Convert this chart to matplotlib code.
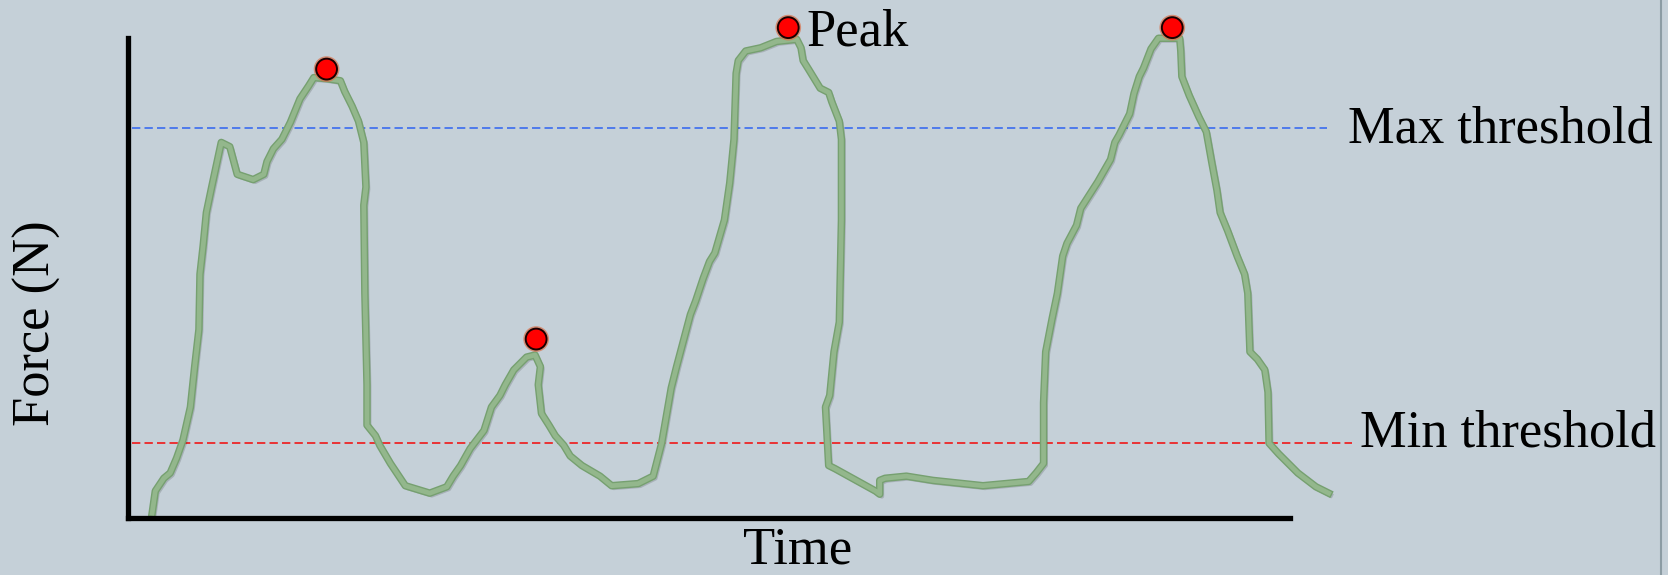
import numpy as np
import matplotlib
matplotlib.use("Agg")
import matplotlib.pyplot as plt
import matplotlib.patheffects as pe

# force trace (arbitrary units)
time = [23, 26, 34, 40, 46, 52, 59, 63, 67, 68, 71, 74, 79, 88, 96, 103, 118, 128,
        131, 137, 145, 153, 162, 170, 175, 187, 200, 204, 211, 217, 222, 224, 222,
        223, 225, 225, 233, 237, 247, 261, 284, 300, 306, 313, 322, 335, 342, 350,
        355, 363, 375, 383, 388, 386, 389, 396, 402, 410, 416, 427, 444,
        455, 480, 494, 502, 511, 516, 529, 534, 541, 547, 552, 561, 566, 570, 572,
        574, 581, 595, 610, 629, 633, 635, 640, 651, 659, 662, 669, 671, 671, 669,
        664, 660, 656, 659, 665, 703, 707, 707, 712, 732, 757, 804, 847, 854, 861,
        861, 863, 869, 874, 879, 883, 892, 896, 912, 924, 928, 932, 942, 946, 951,
        955, 962, 969, 989, 990, 991, 998, 1007, 1014, 1019, 1024, 1027, 1034,
        1043, 1050, 1053, 1055, 1062, 1069, 1072, 1073, 1082, 1100, 1117, 1129]
force = [4, 25, 37, 42, 56, 73, 104, 142, 177, 229, 256, 287, 311, 353, 349, 323, 318, 323,
         335, 347, 356, 372, 394, 406, 414, 413, 411, 401, 387, 373, 353, 311, 294,
         211, 125, 87, 77, 68, 51, 30, 23, 29, 39, 49, 65, 82, 104, 115,
         125, 139, 151, 153, 142, 125, 98, 87, 77, 68, 58, 49, 39,
         30, 32, 39, 70, 122, 142, 191, 204, 225, 241, 249, 280, 315, 356, 418,
         430, 439, 442, 448, 450, 442, 430, 422, 404, 400, 391, 373, 356, 280, 184,
         156, 115, 104, 49, 46, 25, 22, 35, 37, 39, 35, 30, 34, 42, 51,
         108, 156, 187, 211, 246, 258, 275, 291, 316, 337, 353, 360, 380, 399, 415,
         423, 441, 451, 451, 439, 415, 397, 377, 363, 335, 308, 287, 270,
         246, 229, 211, 156, 149, 139, 118, 70, 60, 42, 29, 23]

peak_time = [187, 384, 621, 982]
peak_force = [422, 168, 461, 461]

max_threshold = 367
min_threshold = 70

bg = "#c5d0d8"
plt.rcParams["font.family"] = ["Liberation Serif", "DejaVu Serif"]

fig = plt.figure(figsize=(16.68, 5.75), dpi=100, facecolor=bg)
ax = fig.add_axes([0, 0, 1, 1], facecolor=bg)
ax.set_xlim(-120, 1448)
ax.set_ylim(-54, 487)

# thresholds
ax.plot([4, 1127], [max_threshold] * 2, color="#3a6cf0", lw=1.2, dashes=(5, 2.5))
ax.plot([4, 1151], [min_threshold] * 2, color="#f01818", lw=1.2, dashes=(5, 2.5))

# force curve
ax.plot(time, force, color="#93b78c", lw=3.4, solid_joinstyle="round",
        path_effects=[pe.SimpleLineShadow(offset=(1.5, -1.5), alpha=0.15),
                      pe.Stroke(linewidth=5.4, foreground="#76a070"),
                      pe.Normal()])

# peaks
ax.plot(peak_time, peak_force, "o", ms=15, mfc="#ff0000", mec="#1a0000", mew=1.4,
        path_effects=[pe.Stroke(linewidth=3.5, foreground="#d9704a", alpha=0.7),
                      pe.Normal()])

fs = 37.8
ax.text(638, 444, "Peak", fontsize=fs, va="baseline", ha="left")
ax.text(1147, 353, "Max threshold", fontsize=fs, va="baseline", ha="left")
ax.text(1158, 67, "Min threshold", fontsize=fs, va="baseline", ha="left")
ax.text(630, -53.5, "Time", fontsize=fs, va="bottom", ha="center")
ax.text(-85, 183, "Force (N)", fontsize=fs, va="center", ha="center", rotation=90)

# axes as thick black lines
for side in ["top", "right"]:
    ax.spines[side].set_visible(False)
ax.spines["left"].set_position(("data", 0))
ax.spines["bottom"].set_position(("data", 0))
ax.spines["left"].set_bounds(0, 451)
ax.spines["bottom"].set_bounds(0, 1093)
for side in ["left", "bottom"]:
    ax.spines[side].set_linewidth(3.8)
    ax.spines[side].set_color("black")
ax.set_xticks([])
ax.set_yticks([])

ax.axvline(1441, color="#8c9ca4", lw=1.5)

fig.savefig("out.png", dpi=100, facecolor=bg)
